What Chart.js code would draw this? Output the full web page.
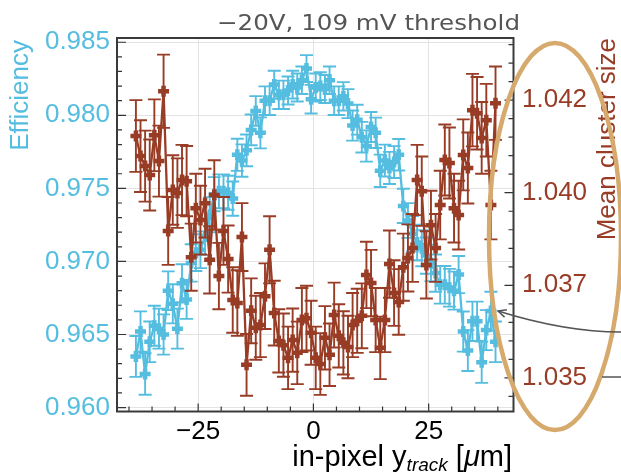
<!DOCTYPE html>
<html>
<head>
<meta charset="utf-8">
<script src="https://cdn.jsdelivr.net/npm/chart.js@4.4.1/dist/chart.umd.min.js"></script>
<style>
  html, body { margin: 0; padding: 0; background: #fff; }
  #wrap { width: 621px; height: 475px; position: relative; }
</style>
</head>
<body>
<div id="wrap"><canvas id="chart"></canvas></div>
<script>
// in-pixel y position of the track [um]
const yTrack = [
  -38.5,-37.5,-36.5,-35.5,-34.5,-33.5,-32.5,-31.5,-30.5,-29.5,
  -28.5,-27.5,-26.5,-25.5,-24.5,-23.5,-22.5,-21.5,-20.5,-19.5,
  -18.5,-17.5,-16.5,-15.5,-14.5,-13.5,-12.5,-11.5,-10.5,-9.5,
  -8.5,-7.5,-6.5,-5.5,-4.5,-3.5,-2.5,-1.5,-0.5,0.5,
  1.5,2.5,3.5,4.5,5.5,6.5,7.5,8.5,9.5,10.5,
  11.5,12.5,13.5,14.5,15.5,16.5,17.5,18.5,19.5,20.5,
  21.5,22.5,23.5,24.5,25.5,26.5,27.5,28.5,29.5,30.5,
  31.5,32.5,33.5,34.5,35.5,36.5,37.5,38.5,39.5
];

const efficiency = [
  0.9635,0.9652,0.9623,0.9645,0.9656,0.9654,0.9650,0.9680,0.9671,0.9654,
  0.9685,0.9674,0.9699,0.9706,0.9708,0.9717,0.9732,0.9746,0.9748,0.9748,
  0.9747,0.9743,0.9773,0.9769,0.9776,0.9790,0.9803,0.9788,0.9810,0.9810,
  0.9821,0.9814,0.9814,0.9817,0.9821,0.9819,0.9824,0.9832,0.9811,0.9819,
  0.9820,0.9818,0.9824,0.9810,0.9810,0.9813,0.9808,0.9793,0.9797,0.9785,
  0.9779,0.9792,0.9788,0.9762,0.9769,0.9764,0.9768,0.9773,0.9738,0.9728,
  0.9719,0.9713,0.9709,0.9704,0.9699,0.9692,0.9684,0.9684,0.9682,0.9680,
  0.9691,0.9652,0.9639,0.9659,0.9659,0.9631,0.9653,0.9666,0.9645
];
const efficiencyErr = [
  0.00140,0.00138,0.00142,0.00139,0.00137,0.00137,0.00138,0.00132,0.00134,0.00137,
  0.00131,0.00133,0.00128,0.00126,0.00126,0.00124,0.00120,0.00117,0.00116,0.00116,
  0.00116,0.00117,0.00110,0.00111,0.00109,0.00105,0.00101,0.00106,0.00098,0.00098,
  0.00095,0.00097,0.00097,0.00096,0.00095,0.00096,0.00094,0.00092,0.00098,0.00096,
  0.00095,0.00096,0.00094,0.00098,0.00098,0.00097,0.00099,0.00103,0.00102,0.00105,
  0.00107,0.00103,0.00104,0.00111,0.00109,0.00110,0.00109,0.00108,0.00117,0.00119,
  0.00121,0.00122,0.00123,0.00124,0.00125,0.00127,0.00129,0.00129,0.00129,0.00130,
  0.00127,0.00137,0.00140,0.00135,0.00135,0.00141,0.00137,0.00133,0.00139
];

const clusterSize = [
  1.04127,1.04075,1.04049,1.04026,1.04129,1.04062,1.04243,1.03881,1.03987,1.03979,
  1.04013,1.04010,1.03813,1.03940,1.03909,1.03953,1.03806,1.03974,1.03764,1.03881,
  1.03808,1.03702,1.03694,1.03865,1.03534,1.03674,1.03630,1.03637,1.03712,1.03832,
  1.03668,1.03596,1.03585,1.03552,1.03598,1.03565,1.03650,1.03655,1.03617,1.03552,
  1.03536,1.03604,1.03560,1.03663,1.03609,1.03591,1.03580,1.03637,1.03648,1.03661,
  1.03767,1.03746,1.03650,1.03578,1.03650,1.03795,1.03720,1.03697,1.03787,1.03811,
  1.03837,1.04013,1.03984,1.03793,1.03896,1.03837,1.03948,1.04065,1.04057,1.03940,
  1.03922,1.04078,1.04044,1.04194,1.04186,1.04122,1.04168,1.03948,1.04212
];
const clusterSizeErr = [
  0.00093,0.00093,0.00092,0.00092,0.00093,0.00092,0.00095,0.00088,0.00090,0.00090,
  0.00091,0.00091,0.00087,0.00089,0.00089,0.00089,0.00087,0.00090,0.00086,0.00088,
  0.00087,0.00085,0.00085,0.00088,0.00080,0.00084,0.00083,0.00083,0.00085,0.00087,
  0.00084,0.00082,0.00082,0.00081,0.00082,0.00081,0.00083,0.00084,0.00083,0.00081,
  0.00080,0.00082,0.00081,0.00084,0.00082,0.00082,0.00081,0.00083,0.00083,0.00084,
  0.00086,0.00086,0.00083,0.00081,0.00083,0.00087,0.00085,0.00085,0.00087,0.00087,
  0.00088,0.00091,0.00090,0.00087,0.00089,0.00088,0.00089,0.00092,0.00092,0.00089,
  0.00089,0.00092,0.00092,0.00094,0.00094,0.00093,0.00094,0.00089,0.00095
];

const xTicks = [-25, 0, 25];
const effTicks = [0.960, 0.965, 0.970, 0.975, 0.980, 0.985];
const sizeTicks = [1.0350, 1.0374, 1.0398, 1.0422];

const BLUE = '#55bde0';
const BROWN = '#983c26';
const TAN = '#d6a96c';
const FONT = '"Liberation Sans", Arial, sans-serif';

Chart.defaults.font.family = FONT;

// error bars, drawn just under their own dataset
const errorBars = {
  id: 'errorBars',
  beforeDatasetDraw(chart, args) {
    const ds = chart.data.datasets[args.index];
    if (!ds.errors) return;
    const meta = args.meta;
    const ys = chart.scales[meta.yAxisID];
    const a = chart.chartArea;
    const ctx = chart.ctx;
    ctx.save();
    ctx.beginPath();
    ctx.rect(a.left, a.top, a.right - a.left, a.bottom - a.top);
    ctx.clip();
    ctx.strokeStyle = ds.borderColor;
    ctx.lineWidth = 1.9;
    ctx.beginPath();
    meta.data.forEach((pt, i) => {
      const v = ds.data[i].y, e = ds.errors[i];
      const top = ys.getPixelForValue(v + e);
      const bot = ys.getPixelForValue(v - e);
      ctx.moveTo(pt.x, top); ctx.lineTo(pt.x, bot);
      ctx.moveTo(pt.x - 6.5, top); ctx.lineTo(pt.x + 6.5, top);
      ctx.moveTo(pt.x - 6.5, bot); ctx.lineTo(pt.x + 6.5, bot);
    });
    ctx.stroke();
    ctx.restore();
  }
};

// box and inward ticks, matplotlib style
const frame = {
  id: 'frame',
  afterDatasetsDraw(chart) {
    const {ctx, chartArea: a, scales} = chart;
    ctx.save();
    ctx.strokeStyle = '#333';
    ctx.lineWidth = 1.2;
    ctx.beginPath();
    for (let v = -40; v <= 40; v += 5) {
      const px = scales.x.getPixelForValue(v);
      const len = v % 25 === 0 ? 8 : 5;
      ctx.moveTo(px, a.bottom); ctx.lineTo(px, a.bottom - len);
    }
    for (let k = 960; k <= 985; k++) {
      const py = scales.y.getPixelForValue(k / 1000);
      const len = k % 5 === 0 ? 9 : 5;
      ctx.moveTo(a.left, py); ctx.lineTo(a.left + len, py);
    }
    for (let k = -1; k <= 18; k++) {
      const py = scales.y1.getPixelForValue(1.0350 + k * 0.00048);
      const len = k % 5 === 0 ? 9 : 5;
      ctx.moveTo(a.right, py); ctx.lineTo(a.right - len, py);
    }
    ctx.stroke();
    ctx.lineWidth = 2;
    ctx.strokeStyle = '#3a3a3a';
    ctx.strokeRect(a.left, a.top, a.right - a.left, a.bottom - a.top);
    ctx.restore();
  }
};

// title, axis titles and the hand-drawn annotation
const decorations = {
  id: 'decorations',
  afterDraw(chart) {
    const ctx = chart.ctx;
    ctx.save();

    // title
    ctx.fillStyle = '#555';
    ctx.font = '22px "DejaVu Sans"';
    ctx.textBaseline = 'alphabetic';
    const title = '\u221220V, 109 mV threshold';
    const tw = ctx.measureText(title).width;
    ctx.save();
    ctx.translate(217, 30);
    ctx.scale(303 / tw, 1);
    ctx.textAlign = 'left';
    ctx.fillText(title, 0, 0);
    ctx.restore();

    // left axis title
    ctx.save();
    ctx.fillStyle = BLUE;
    ctx.font = '26px ' + FONT;
    ctx.translate(28, 40);
    ctx.rotate(-Math.PI / 2);
    ctx.textAlign = 'right';
    ctx.fillText('Efficiency', 0, 0);
    ctx.restore();

    // right axis title
    ctx.save();
    ctx.fillStyle = BROWN;
    ctx.font = '26px ' + FONT;
    ctx.translate(615, 38);
    ctx.rotate(-Math.PI / 2);
    ctx.textAlign = 'right';
    ctx.fillText('Mean cluster size', 0, 0);
    ctx.restore();

    // x axis title with subscript
    const parts = [
      {t: 'in-pixel y', f: '29px ' + FONT, dy: 0},
      {t: 'track', f: 'italic 19px ' + FONT, dy: 5},
      {t: ' [', f: '29px ' + FONT, dy: 0},
      {t: '\u03bc', f: 'italic 29px ' + FONT, dy: 0},
      {t: 'm]', f: '29px ' + FONT, dy: 0}
    ];
    let total = 0;
    parts.forEach(p => { ctx.font = p.f; p.w = ctx.measureText(p.t).width; total += p.w; });
    let cx = 512 - total;
    ctx.fillStyle = '#000';
    ctx.textAlign = 'left';
    parts.forEach(p => { ctx.font = p.f; ctx.fillText(p.t, cx, 466 + p.dy); cx += p.w; });

    // ellipse around the right axis
    ctx.strokeStyle = TAN;
    ctx.lineWidth = 4.5;
    ctx.beginPath();
    ctx.ellipse(555, 236.5, 66, 193.5, 0, 0, Math.PI * 2);
    ctx.stroke();

    // arrows
    ctx.strokeStyle = '#555';
    ctx.lineWidth = 1.5;
    ctx.beginPath();
    ctx.moveTo(621, 332);
    ctx.quadraticCurveTo(565, 332, 498, 311);
    ctx.stroke();
    const ang = Math.atan2(311 - 332, 498 - 565);
    ctx.beginPath();
    ctx.moveTo(498 - 9 * Math.cos(ang - 0.45), 311 - 9 * Math.sin(ang - 0.45));
    ctx.lineTo(498, 311);
    ctx.lineTo(498 - 9 * Math.cos(ang + 0.45), 311 - 9 * Math.sin(ang + 0.45));
    ctx.stroke();
    ctx.beginPath();
    ctx.moveTo(602, 377);
    ctx.lineTo(621, 377);
    ctx.stroke();

    ctx.restore();
  }
};

const fmtX = v => (v < 0 ? '\u2212' + Math.abs(v) : String(v));

const config = {
  type: 'line',
  data: {
    datasets: [
      {
        label: 'Efficiency',
        data: yTrack.map((x, i) => ({x: x, y: efficiency[i]})),
        errors: efficiencyErr,
        yAxisID: 'y',
        borderColor: BLUE,
        backgroundColor: BLUE,
        borderWidth: 2.3,
        pointStyle: 'cross',
        pointRadius: 5.5,
        pointBorderWidth: 4.5,
        tension: 0,
        order: 1
      },
      {
        label: 'Mean cluster size',
        data: yTrack.map((x, i) => ({x: x, y: clusterSize[i]})),
        errors: clusterSizeErr,
        yAxisID: 'y1',
        borderColor: BROWN,
        backgroundColor: BROWN,
        borderWidth: 2.3,
        pointStyle: 'cross',
        pointRadius: 5.5,
        pointBorderWidth: 4.5,
        tension: 0,
        order: 0
      }
    ]
  },
  options: {
    responsive: true,
    maintainAspectRatio: false,
    animation: false,
    events: [],
    layout: { padding: { top: 38, left: 0, right: 0, bottom: 0 } },
    plugins: {
      legend: { display: false },
      tooltip: { enabled: false },
      title: { display: false }
    },
    scales: {
      x: {
        type: 'linear',
        min: -42.6,
        max: 43.4,
        afterBuildTicks: s => { s.ticks = xTicks.map(v => ({value: v})); },
        afterFit: s => { s.height = 63.5; },
        grid: { color: '#e3e3e3', lineWidth: 1, drawTicks: false },
        border: { display: false },
        ticks: { color: '#000', font: { size: 26 }, padding: 5, callback: fmtX, maxRotation: 0 }
      },
      y: {
        position: 'left',
        min: 0.95973,
        max: 0.98529,
        afterBuildTicks: s => { s.ticks = effTicks.map(v => ({value: v})); },
        afterFit: s => { s.width = 117; },
        grid: { color: '#e3e3e3', lineWidth: 1, drawTicks: false },
        border: { display: false },
        ticks: { color: BLUE, font: { size: 26 }, padding: 7, callback: v => v.toFixed(3) }
      },
      y1: {
        position: 'right',
        min: 1.03413,
        max: 1.04381,
        afterBuildTicks: s => { s.ticks = sizeTicks.map(v => ({value: v})); },
        afterFit: s => { s.width = 107.5; },
        grid: { display: false, drawTicks: false },
        border: { display: false },
        ticks: { color: BROWN, font: { size: 26 }, padding: 8.5, callback: v => v.toFixed(3) }
      }
    }
  },
  plugins: [errorBars, frame, decorations]
};

const myChart = new Chart(document.getElementById('chart'), config);
</script>
</body>
</html>
